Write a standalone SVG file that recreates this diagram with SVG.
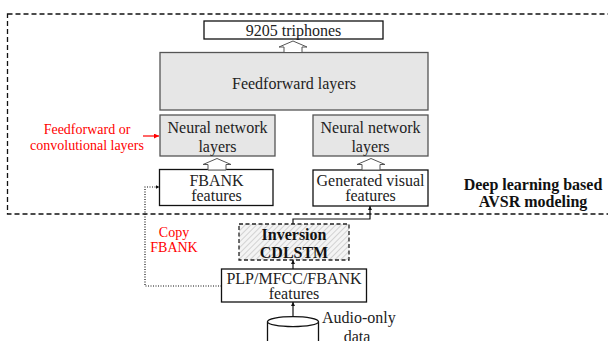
<svg xmlns="http://www.w3.org/2000/svg" width="608" height="341" viewBox="0 0 608 341">
<defs>
<style>
.t{font-family:"Liberation Serif","Times New Roman",serif;font-size:16px;fill:#222;text-anchor:middle}
.b{font-weight:bold;fill:#111}
.r{font-family:"Liberation Serif","Times New Roman",serif;font-size:14px;fill:#f00;text-anchor:middle}
.wbox{fill:#fff;stroke:#111;stroke-width:1.3}
.gbox{fill:#e6e6e6;stroke:#555;stroke-width:1.3}
.hol{fill:#fff;stroke:#555;stroke-width:1}
.con{fill:none;stroke:#111;stroke-width:1.2}
</style>
<marker id="ah" viewBox="0 0 6 6" refX="6" refY="3" markerWidth="4" markerHeight="4" orient="auto" markerUnits="userSpaceOnUse">
<path d="M0,0 L6,3 L0,6 z" fill="#111"/>
</marker>
<marker id="ahr" viewBox="0 0 6 6" refX="6" refY="3" markerWidth="5" markerHeight="5" orient="auto" markerUnits="userSpaceOnUse">
<path d="M0,0 L6,3 L0,6 z" fill="#f00"/>
</marker>
<pattern id="hatch" width="4" height="4" patternUnits="userSpaceOnUse" patternTransform="rotate(45)">
<rect width="4" height="4" fill="#f4f4f4"/>
<line x1="0" y1="0" x2="0" y2="4" stroke="#bbb" stroke-width="1.2"/>
</pattern>
<path id="hollow" d="M0,0 L14,6 L9,6 L9,11.5 L-9,11.5 L-9,6 L-14,6 Z"/>
</defs>

<g id="border">
<rect x="7.5" y="14" width="630" height="200" fill="none" stroke="#111" stroke-width="1.3" stroke-dasharray="5,3"/>
</g>

<g id="triphones">
<rect class="wbox" x="204" y="21" width="179" height="18"/>
<text class="t" x="293.5" y="35.5">9205 triphones</text>
</g>

<g id="feedforward">
<rect class="gbox" x="160" y="52.5" width="268" height="57.5"/>
<text class="t" x="294" y="88.5">Feedforward layers</text>
</g>

<g id="nn-left">
<rect class="gbox" x="160" y="115" width="115" height="41"/>
<text class="t" x="217.5" y="132.5">Neural network</text>
<text class="t" x="217.5" y="152">layers</text>
</g>

<g id="nn-right">
<rect class="gbox" x="313" y="115" width="115" height="41"/>
<text class="t" x="370.5" y="132.5">Neural network</text>
<text class="t" x="370.5" y="152">layers</text>
</g>

<g id="fbank">
<rect class="wbox" x="159.5" y="169.5" width="113.5" height="36"/>
<text class="t" x="216.5" y="186">FBANK</text>
<text class="t" x="216.5" y="200.5">features</text>
</g>

<g id="generated">
<rect class="wbox" x="313" y="170" width="115" height="36"/>
<text class="t" x="370.5" y="186">Generated visual</text>
<text class="t" x="370.5" y="201">features</text>
</g>

<g id="avsr-label">
<text class="t b" x="533" y="189.5">Deep learning based</text>
<text class="t b" x="533" y="207">AVSR modeling</text>
</g>

<g id="ff-label">
<text class="r" x="87" y="134">Feedforward or</text>
<text class="r" x="87" y="149.5">convolutional layers</text>
</g>

<g id="copy-label">
<text class="r" x="174" y="237">Copy</text>
<text class="r" x="174" y="252">FBANK</text>
</g>

<g id="inversion">
<rect x="239" y="224" width="110" height="36" fill="url(#hatch)" stroke="#222" stroke-width="1.3" stroke-dasharray="4,2.5"/>
<text class="t b" x="294" y="239.5">Inversion</text>
<text class="t b" x="294" y="257.5">CDLSTM</text>
</g>

<g id="plp">
<rect class="wbox" x="221.5" y="269" width="145" height="33"/>
<text class="t" x="294" y="283.5">PLP/MFCC/FBANK</text>
<text class="t" x="294" y="299">features</text>
</g>

<g id="audio-data">
<path d="M267.5,321.7 V345 M318.5,321.7 V345" stroke="#111" stroke-width="1.3" fill="#fff"/>
<ellipse cx="293" cy="321.7" rx="25.5" ry="5" fill="#fff" stroke="#111" stroke-width="1.3"/>
<text class="t" x="322" y="323" text-anchor="start" style="text-anchor:start">Audio-only</text>
<text class="t" x="357" y="341.5">data</text>
</g>

<g id="connectors">
<use href="#hollow" x="293" y="41" class="hol"/>
<use href="#hollow" x="217" y="158.5" class="hol"/>
<use href="#hollow" x="371" y="158.5" class="hol"/>
<line class="con" x1="143" y1="136" x2="159" y2="136" stroke="#f00" style="stroke:#f00" marker-end="url(#ahr)"/>
<line class="con" x1="293" y1="269" x2="293" y2="260" marker-end="url(#ah)"/>
<line class="con" x1="293" y1="316.7" x2="293" y2="302" marker-end="url(#ah)"/>
<path class="con" d="M293,224 V219 H370 V206" marker-end="url(#ah)"/>
<path class="con" d="M221.5,286 H145 V187 H159.5" stroke-dasharray="1,1.5" marker-end="url(#ah)"/>
</g>
</svg>
